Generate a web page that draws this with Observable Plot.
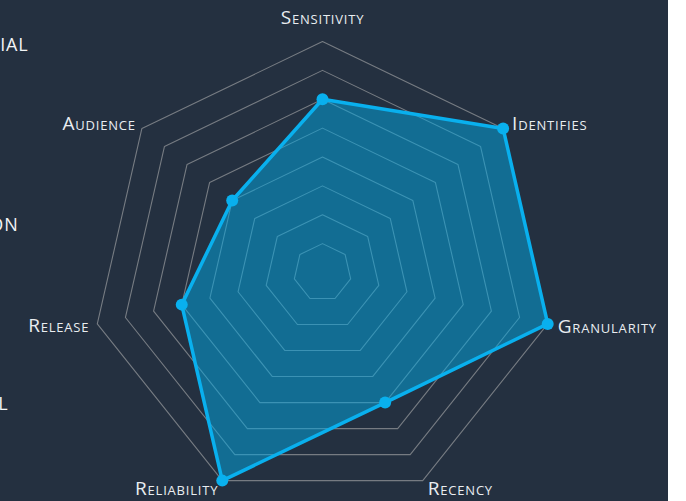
<!DOCTYPE html>
<html>
<head>
<meta charset="utf-8">
<script src="https://cdn.jsdelivr.net/npm/d3@7"></script>
<script src="https://cdn.jsdelivr.net/npm/@observablehq/plot@0.6"></script>
<style>
  html, body { margin: 0; padding: 0; background: #ffffff; }
  #wrap { position: relative; width: 668px; height: 501px; background: #243040; overflow: hidden; }
  #wrap svg { position: absolute; left: 0; top: 0; }
  #wrap svg text { letter-spacing: 0.8px; }
</style>
</head>
<body>
<div id="wrap"></div>
<script>
// ---- data ----
const axes = ["Sensitivity", "Identifies", "Granularity", "Recency", "Reliability", "Release", "Audience"];
const values = [6, 8, 8, 5, 8, 5, 4];
const levels = [1, 2, 3, 4, 5, 6, 7, 8];
const maxValue = 8;
const sideLabels = ["IAL", "ON", "L"];

// ---- geometry helpers (unit-circle coordinates, fed to Plot's x/y scales) ----
const n = axes.length;
const angle = i => (i * 2 * Math.PI) / n;
const r = d3.scaleLinear().domain([0, maxValue]).range([0, 1]);
const px = (i, v) => Math.sin(angle(i)) * r(v);
const py = (i, v) => Math.cos(angle(i)) * r(v);

const ringPts = levels.flatMap(l => axes.map((a, i) => ({level: l, x: px(i, l), y: py(i, l)})));
const dataPts = axes.map((a, i) => ({axis: a, x: px(i, values[i]), y: py(i, values[i])}));

// label placement
const labelPts = axes.map((a, i) => {
  const s = Math.sin(angle(i)), c = Math.cos(angle(i));
  let anchor = Math.abs(s) < 0.1 ? "middle" : (s > 0 ? "start" : "end");
  let dx = 0, dy = 0;
  if (i === 0) { dy = -24; }
  else if (i === 1) { dx = 9; dy = -5; }
  else if (i === 2) { dx = 10; dy = 3; }
  else if (i === 3) { dx = 5; dy = 8; anchor = "start"; }
  else if (i === 4) { dx = -4; dy = 8; anchor = "end"; }
  else if (i === 5) { dx = -8; dy = 2; }
  else if (i === 6) { dx = -6; dy = -5; }
  return {label: a, x: s * r(maxValue), y: c * r(maxValue), anchor, dx, dy};
});

const W = 668, H = 501;
const cx = 322, cy = 272, R = 231;
const xDomain = [-cx / R, (W - cx) / R];
const yDomain = [-(H - cy) / R, cy / R];

const sideY = d3.scalePoint().domain(sideLabels).range([(cy - 45) / R, (cy - 404) / R]);
const sideDx = [28, 18, 8];

const textCommon = {fill: "#e9edf1", fontFamily: "'Open Sans', Lato, sans-serif", fontSize: 19, fontVariant: "small-caps", stroke: null};

const plot = Plot.plot({
  width: W,
  height: H,
  margin: 0,
  style: {background: "transparent", overflow: "visible"},
  x: {domain: xDomain, axis: null},
  y: {domain: yDomain, axis: null},
  marks: [
    Plot.line(ringPts, {x: "x", y: "y", z: "level", curve: "linear-closed", stroke: "#80848a", strokeWidth: 1.1, strokeOpacity: 0.9}),
    Plot.line(dataPts, {x: "x", y: "y", curve: "linear-closed", fill: "#00a9e6", fillOpacity: 0.5, stroke: "none"}),
    Plot.line(dataPts, {x: "x", y: "y", curve: "linear-closed", stroke: "#09b0ee", strokeWidth: 3.5, strokeLinejoin: "round"}),
    Plot.dot(dataPts, {x: "x", y: "y", r: 6, fill: "#09b0ee", stroke: null}),
    ...labelPts.map(d => Plot.text([d], {x: "x", y: "y", text: "label", textAnchor: d.anchor, dx: d.dx, dy: d.dy, ...textCommon})),
    ...sideLabels.map((t, i) => Plot.text([t], {x: () => xDomain[0], y: d => sideY(d), text: d => d, textAnchor: "end", dx: sideDx[i], fill: "#f2f4f6", fontFamily: "'Open Sans', Lato, sans-serif", fontSize: 18}))
  ]
});
document.getElementById("wrap").appendChild(plot);
</script>
</body>
</html>
